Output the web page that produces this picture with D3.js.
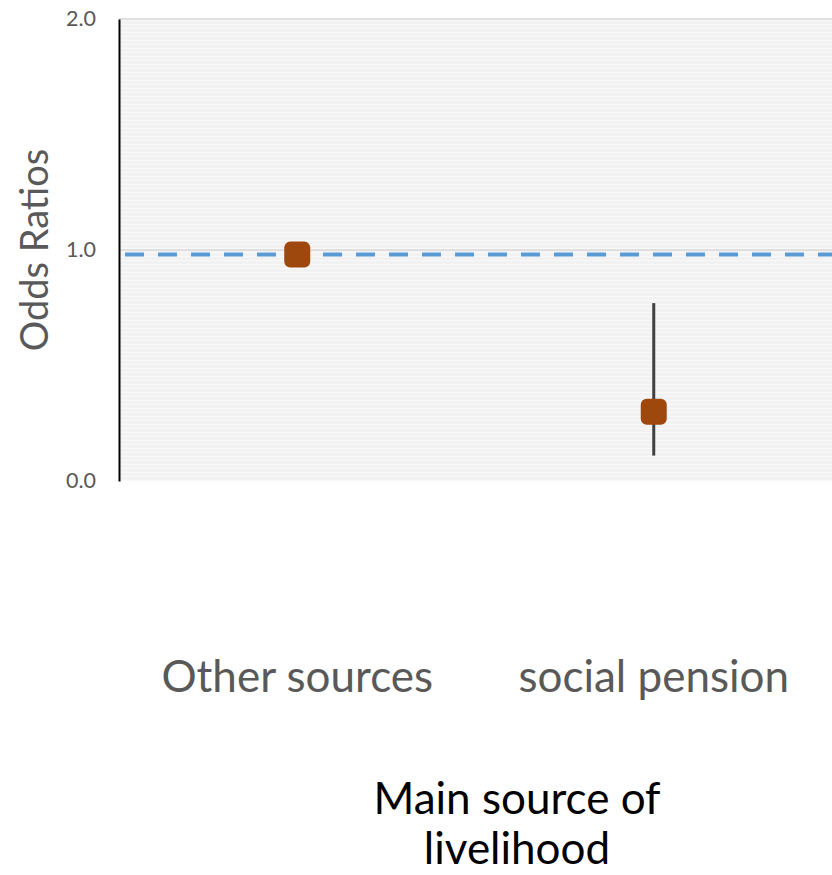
<!DOCTYPE html>
<html>
<head>
<meta charset="utf-8">
<script src="https://cdn.jsdelivr.net/npm/d3@7"></script>
<style>
  html, body { margin: 0; padding: 0; background: #ffffff; }
  svg { display: block; }
  text { font-family: Lato, "Open Sans", sans-serif; }
</style>
</head>
<body>
<script>
// Odds ratios by main source of livelihood
const categories = ["Other sources", "social pension"];
const oddsRatios = [0.98, 0.30];
const ciLower = [null, 0.11];
const ciUpper = [null, 0.77];
const referenceValue = 0.98;
const yTicks = [0, 1, 2];
const yTickLabels = ["0.0", "1.0", "2.0"];

const W = 832, H = 875;
const plot = { left: 119, top: 19, right: 832, bottom: 481 };

const svg = d3.select("body").append("svg")
  .attr("width", W).attr("height", H);

const defs = svg.append("defs");
const pat = defs.append("pattern")
  .attr("id", "stripes").attr("patternUnits", "userSpaceOnUse")
  .attr("width", 8).attr("height", 4);
pat.append("rect").attr("width", 8).attr("height", 4).attr("fill", "#f2f2f2");
pat.append("rect").attr("y", 0).attr("width", 8).attr("height", 1).attr("fill", "#f9f9f9");

const x = d3.scaleBand().domain(categories).range([plot.left, plot.right]);
const y = d3.scaleLinear().domain([0, 2]).range([plot.bottom, plot.top]);

// plot area background
svg.append("rect")
  .attr("x", plot.left).attr("y", plot.top)
  .attr("width", plot.right - plot.left).attr("height", plot.bottom - plot.top)
  .attr("fill", "url(#stripes)");

// gridlines
svg.append("g").selectAll("line").data(yTicks.filter(d => d > 0)).join("line")
  .attr("x1", plot.left).attr("x2", plot.right)
  .attr("y1", d => y(d)).attr("y2", d => y(d))
  .attr("stroke", "#d9d9d9").attr("stroke-width", 1.5);

// y axis
const yAxis = d3.axisLeft(y).tickValues(yTicks)
  .tickFormat((d, i) => yTickLabels[i]).tickSize(0).tickPadding(23);
const gy = svg.append("g").attr("transform", `translate(${plot.left},0)`).call(yAxis);
gy.select(".domain").attr("stroke", "#000").attr("stroke-width", 2);
gy.selectAll("text").attr("fill", "#595959").attr("font-size", 21.5)
  .attr("font-family", "Lato, sans-serif");

// reference line
svg.append("line")
  .attr("x1", plot.left + 6).attr("x2", W)
  .attr("y1", y(referenceValue)).attr("y2", y(referenceValue))
  .attr("stroke", "#5b9bd5").attr("stroke-width", 4)
  .attr("stroke-dasharray", "19,14");

const rows = categories.map((c, i) => ({ c, v: oddsRatios[i], lo: ciLower[i], hi: ciUpper[i] }));
const cx = d => x(d.c) + x.bandwidth() / 2;

// confidence intervals
svg.append("g").selectAll("line").data(rows.filter(d => d.lo != null)).join("line")
  .attr("x1", cx).attr("x2", cx)
  .attr("y1", d => y(d.hi)).attr("y2", d => y(d.lo))
  .attr("stroke", "#404040").attr("stroke-width", 3);

// point estimates
const ms = 26;
svg.append("g").selectAll("rect").data(rows).join("rect")
  .attr("x", d => cx(d) - ms / 2).attr("y", d => y(d.v) - ms / 2)
  .attr("width", ms).attr("height", ms).attr("rx", 6)
  .attr("fill", "#9e480e");

// category labels
svg.append("g").selectAll("text").data(categories).join("text")
  .attr("x", d => x(d) + x.bandwidth() / 2).attr("y", 692)
  .attr("text-anchor", "middle").attr("font-size", 44).attr("fill", "#595959")
  .text(d => d);

// axis titles
svg.append("text")
  .attr("transform", `translate(48,${y(1)}) rotate(-90)`)
  .attr("text-anchor", "middle").attr("font-size", 38).attr("fill", "#595959")
  .text("Odds Ratios");

const xt = svg.append("text").attr("text-anchor", "middle").attr("font-size", 44).attr("fill", "#000");
xt.append("tspan").attr("x", 517).attr("y", 814).text("Main source of");
xt.append("tspan").attr("x", 517).attr("y", 864).text("livelihood");
</script>
</body>
</html>
